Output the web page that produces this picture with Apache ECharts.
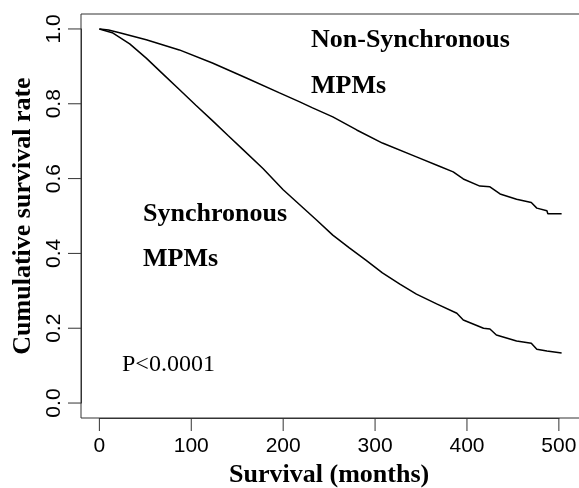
<!DOCTYPE html>
<html>
<head>
<meta charset="utf-8">
<script src="https://cdn.jsdelivr.net/npm/echarts@6/dist/echarts.min.js"></script>
<style>
html,body{margin:0;padding:0;background:#fff;}
#c{width:579px;height:488px;}
</style>
</head>
<body>
<div id="c"></div>
<script>
var xTicks = [0, 100, 200, 300, 400, 500];
var yTicks = [0, 0.2, 0.4, 0.6, 0.8, 1.0];

var nonSyncMonths = [0, 10, 22, 51, 87, 123, 160, 196, 218, 232, 254, 280, 308, 345, 370, 385, 396, 414, 425, 436, 454, 470, 476, 487, 488, 503];
var nonSyncSurv   = [1.0, 0.997, 0.99, 0.971, 0.944, 0.909, 0.869, 0.829, 0.805, 0.789, 0.765, 0.73, 0.695, 0.658, 0.633, 0.618, 0.599, 0.58, 0.578, 0.559, 0.545, 0.536, 0.521, 0.514, 0.506, 0.506];

var syncMonths = [0, 14, 33, 51, 69, 87, 105, 123, 140, 156, 178, 200, 218, 236, 254, 272, 290, 308, 327, 345, 367, 389, 396, 418, 425, 432, 454, 470, 476, 487, 488, 503];
var syncSurv   = [1.0, 0.99, 0.96, 0.922, 0.88, 0.838, 0.796, 0.755, 0.715, 0.678, 0.627, 0.57, 0.53, 0.49, 0.449, 0.415, 0.382, 0.348, 0.318, 0.291, 0.265, 0.24, 0.222, 0.2, 0.198, 0.182, 0.166, 0.16, 0.144, 0.139, 0.134, 0.134];

var annotations = [
  {text: 'Non-Synchronous', x: 311, y: 40, bold: true, size: 26},
  {text: 'MPMs', x: 311, y: 86, bold: true, size: 26},
  {text: 'Synchronous', x: 143, y: 214, bold: true, size: 26},
  {text: 'MPMs', x: 143, y: 259, bold: true, size: 26},
  {text: 'P<0.0001', x: 122, y: 365, bold: false, size: 24}
];

function pairs(xs, ys) {
  var out = [];
  for (var i = 0; i < xs.length; i++) out.push([xs[i], ys[i]]);
  return out;
}
function singles(vs) {
  return vs.map(function (v) { return [v]; });
}

var chart = echarts.init(document.getElementById('c'), null, {renderer: 'canvas'});
var serif = '"Liberation Serif", "DejaVu Serif", serif';
var sans = '"Liberation Sans", Arial, sans-serif';

// plot box (R-style padded range)
var boxLeft = 81, boxTop = 14, boxW = 499, boxH = 404;
var xMin = -20, xMax = 523, yMin = -0.04, yMax = 1.04;
var xFirst = xTicks[0], xLast = xTicks[xTicks.length - 1];
var yFirst = yTicks[0], yLast = yTicks[yTicks.length - 1];
var sx = boxW / (xMax - xMin), sy = boxH / (yMax - yMin);
var g2Left = boxLeft + (xFirst - xMin) * sx;
var g2W = (xLast - xFirst) * sx;
var g3Top = boxTop + (yMax - yLast) * sy;
var g3H = (yLast - yFirst) * sy;
var TICK_LEN = 13;

var lineStyle = {show: true, lineStyle: {color: '#333', width: 1}};

chart.setOption({
  animation: false,
  backgroundColor: '#fff',
  grid: [
    {left: boxLeft, top: boxTop, width: boxW, height: boxH, show: true, borderColor: '#333', borderWidth: 1,
      backgroundColor: 'transparent', containLabel: false, outerBoundsMode: 'none'},
    {left: g2Left, top: boxTop, width: g2W, height: boxH, show: false, containLabel: false, outerBoundsMode: 'none'},
    {left: boxLeft, top: g3Top, width: boxW, height: g3H, show: false, containLabel: false, outerBoundsMode: 'none'}
  ],
  xAxis: [
    {type: 'value', gridIndex: 0, min: xMin, max: xMax, show: false},
    {
      type: 'value', gridIndex: 1, min: xFirst, max: xLast, interval: 100,
      axisLine: lineStyle,
      splitLine: {show: false},
      axisTick: {show: false},
      axisLabel: {color: '#000', fontFamily: sans, fontSize: 21, margin: 18},
      name: 'Survival (months)', nameLocation: 'middle', nameGap: 42,
      nameTextStyle: {color: '#000', fontFamily: serif, fontWeight: 'bold', fontSize: 26}
    },
    {type: 'value', gridIndex: 2, min: 0, max: 500, show: false}
  ],
  yAxis: [
    {type: 'value', gridIndex: 0, min: yMin, max: yMax, show: false},
    {type: 'value', gridIndex: 1, min: 0, max: 1, show: false},
    {
      type: 'value', gridIndex: 2, min: yFirst, max: yLast, interval: 0.2,
      axisLine: lineStyle,
      splitLine: {show: false},
      axisTick: {show: false},
      axisLabel: {rotate: 90, color: '#000', fontFamily: sans, fontSize: 21, margin: 16,
        formatter: function (v) { return v.toFixed(1); }},
      name: 'Cumulative survival rate', nameLocation: 'middle', nameGap: 41,
      nameTextStyle: {color: '#000', fontFamily: serif, fontWeight: 'bold', fontSize: 26}
    }
  ],
  graphic: annotations.map(function (a) {
    return {
      type: 'text', left: a.x, top: a.y - a.size / 2,
      style: {text: a.text, fill: '#000', font: (a.bold ? 'bold ' : '') + a.size + 'px ' + serif}
    };
  }),
  series: [
    {type: 'line', name: 'Non-Synchronous MPMs', xAxisIndex: 0, yAxisIndex: 0, data: pairs(nonSyncMonths, nonSyncSurv),
      showSymbol: false, symbol: 'none', lineStyle: {color: '#000', width: 1.5}},
    {type: 'line', name: 'Synchronous MPMs', xAxisIndex: 0, yAxisIndex: 0, data: pairs(syncMonths, syncSurv),
      showSymbol: false, symbol: 'none', lineStyle: {color: '#000', width: 1.5}},
    {
      type: 'custom', name: 'xTicks', xAxisIndex: 0, yAxisIndex: 0, clip: false, silent: true,
      data: singles(xTicks),
      encode: {x: 0},
      renderItem: function (params, api) {
        var p = api.coord([api.value(0), yMin]);
        return {type: 'line', shape: {x1: p[0], y1: p[1], x2: p[0], y2: p[1] + TICK_LEN},
          style: {stroke: '#333', lineWidth: 1}};
      }
    },
    {
      type: 'custom', name: 'yTicks', xAxisIndex: 0, yAxisIndex: 0, clip: false, silent: true,
      data: singles(yTicks),
      encode: {y: 0},
      renderItem: function (params, api) {
        var p = api.coord([xMin, api.value(0)]);
        return {type: 'line', shape: {x1: p[0], y1: p[1], x2: p[0] - TICK_LEN, y2: p[1]},
          style: {stroke: '#333', lineWidth: 1}};
      }
    }
  ]
});
</script>
</body>
</html>
